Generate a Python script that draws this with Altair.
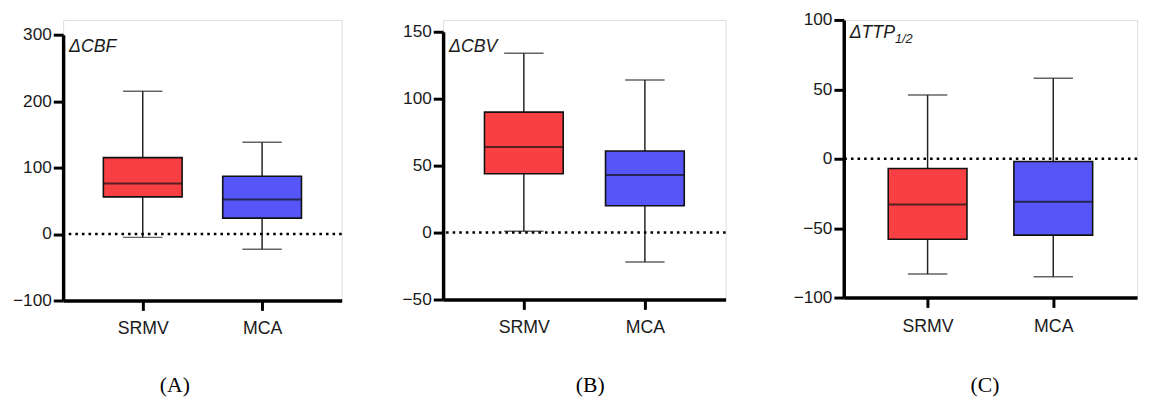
import altair as alt
import pandas as pd

groups = ["SRMV", "MCA"]
colors = ["#F84044", "#5555F8"]

# box statistics per panel: whisker low, Q1, median, Q3, whisker high
cbf_lo = [-5, -23]
cbf_q1 = [56, 24]
cbf_med = [76, 52]
cbf_q3 = [115, 87]
cbf_hi = [215, 138]

cbv_lo = [1, -22]
cbv_q1 = [44, 20]
cbv_med = [64, 43]
cbv_q3 = [90, 61]
cbv_hi = [134, 114]

ttp_lo = [-83, -85]
ttp_q1 = [-58, -55]
ttp_med = [-33, -31]
ttp_q3 = [-7, -2]
ttp_hi = [46, 58]

cbf_ticks = [-100, 0, 100, 200, 300]
cbv_ticks = [-50, 0, 50, 100, 150]
ttp_ticks = [-100, -50, 0, 50, 100]

panel_titles = ["(A)", "(B)", "(C)"]
panel_labels = ["ΔCBF", "ΔCBV", "ΔTTP"]
ttp_sub = "1/2"

SANS = "Liberation Sans"
SERIF = "Liberation Serif"
INK = "#1a1a1a"


def panel(lo, q1, med, q3, hi, ticks, width, height, yrange, label, title,
          title_x, title_y, label_y, sub=None):
    df = pd.DataFrame({"group": groups, "lo": lo, "q1": q1, "med": med,
                       "q3": q3, "hi": hi})
    yscale = alt.Scale(domain=[ticks[0], ticks[-1]], range=yrange, nice=False)
    yaxis = alt.Axis(values=ticks, title=None, grid=False, domainWidth=3.5,
                     domainColor="black", tickColor="black", tickWidth=3,
                     tickSize=10, labelPadding=2, labelFontSize=17.5,
                     labelFont=SANS, labelColor=INK)
    x = alt.X("group:N", sort=groups,
              scale=alt.Scale(type="point", domain=groups, padding=0.667),
              axis=alt.Axis(title=title, labelAngle=0, labelFontSize=18,
                            labelFont=SANS, labelColor=INK, domainWidth=3.5,
                            domainColor="black", tickColor="black",
                            tickWidth=3, tickSize=10, labelPadding=10,
                            titleFont=SERIF, titleFontSize=22,
                            titleFontWeight="normal", titleColor="black",
                            titleX=title_x, titleY=title_y,
                            titleBaseline="middle", titleAlign="center"))
    base = alt.Chart(df)
    color = alt.Color("group:N", scale=alt.Scale(domain=groups, range=colors),
                      legend=None)
    w_lo = base.mark_rule(color="#222", strokeWidth=1.5).encode(
        x=x, y=alt.Y("lo:Q", scale=yscale, axis=yaxis), y2="q1:Q")
    w_hi = base.mark_rule(color="#222", strokeWidth=1.5).encode(
        x=x, y=alt.Y("q3:Q", scale=yscale), y2="hi:Q")
    cap_lo = base.mark_tick(color="#222", size=40, thickness=1.5).encode(
        x=x, y=alt.Y("lo:Q", scale=yscale))
    cap_hi = base.mark_tick(color="#222", size=40, thickness=1.5).encode(
        x=x, y=alt.Y("hi:Q", scale=yscale))
    box = base.mark_bar(size=80, stroke="#111", strokeWidth=1.6).encode(
        x=x, y=alt.Y("q1:Q", scale=yscale), y2="q3:Q", color=color)
    med_t = base.mark_tick(color="#111", size=80, thickness=2).encode(
        x=x, y=alt.Y("med:Q", scale=yscale))
    zero = alt.Chart(pd.DataFrame({"z": [0]})).mark_rule(
        color="black", strokeWidth=2.6, strokeDash=[2.6, 4.1]).encode(
        y=alt.Y("z:Q", scale=yscale))
    txt = alt.Chart(pd.DataFrame({"t": [label]})).mark_text(
        align="left", baseline="middle", font=SANS, fontSize=18,
        fontStyle="italic", color=INK).encode(
        text="t:N", x=alt.value(6), y=alt.value(label_y))
    layers = [w_lo, w_hi, cap_lo, cap_hi, box, med_t, zero, txt]
    if sub is not None:
        stxt = alt.Chart(pd.DataFrame({"t": [sub]})).mark_text(
            align="left", baseline="middle", font=SANS, fontSize=13,
            fontStyle="italic", color=INK).encode(
            text="t:N", x=alt.value(52), y=alt.value(label_y + 6))
        layers.append(stxt)
    return alt.layer(*layers).properties(width=width, height=height)


pa = panel(cbf_lo, cbf_q1, cbf_med, cbf_q3, cbf_hi, cbf_ticks, 283, 285,
           [285, 15], panel_labels[0], panel_titles[0], 113, 85, 28)
pb = panel(cbv_lo, cbv_q1, cbv_med, cbv_q3, cbv_hi, cbv_ticks, 287, 284,
           [284, 12], panel_labels[1], panel_titles[1], 149, 86, 28)
pc = panel(ttp_lo, ttp_q1, ttp_med, ttp_q3, ttp_hi, ttp_ticks, 298, 282,
           [282, 0], panel_labels[2], panel_titles[2], 143, 88, 13, ttp_sub)

chart = alt.hconcat(alt.hconcat(pa, pb, spacing=58), pc, spacing=66).properties(
    padding={"left": 4, "top": -1, "right": 5, "bottom": 5}
).configure_view(stroke=None).configure(background="white")

chart.save("out.html", embed_options={"renderer": "svg", "actions": False})
